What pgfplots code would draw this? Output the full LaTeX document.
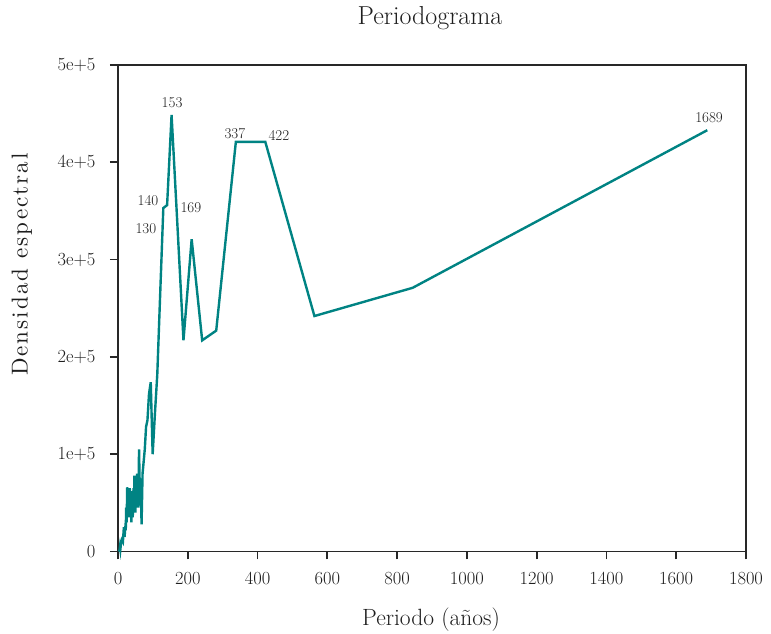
\documentclass[border=0pt]{standalone}
\usepackage{fontspec}
\newfontfamily\spacedrm{lmroman10-regular}[Extension=.otf, LetterSpace=9]
\usepackage{pgfplots}
\pgfplotsset{compat=1.18}

\definecolor{seriescol}{RGB}{0,131,131}
\definecolor{axiscol}{RGB}{40,40,40}
\definecolor{textcol}{RGB}{30,30,30}

% Periodogram: period = 1689/k (years), spectral density
\pgfplotstableread{
period   density
1689     433000
844.5    271000
563      242000
422.25   421000
337.8    421000
281.5    227000
241.29   217000
211.13   321000
187.67   217000
168.9    345000
153.55   448600
140.75   356000
129.92   353000
120.64   262000
112.6    182000
105.56   140000
99.35    100000
93.83    174000
88.89    162000
84.45    135000
80.43    128000
76.77    105000
73.43     92000
70.38     80000
67.56     28000
64.96     75000
62.56     60000
60.32    105000
58.24     45000
56.3      70000
54.48     80000
52.78     45000
51.18     60000
49.68     40000
48.26     55000
46.92     78000
45.65     40000
44.45     65000
43.31     48000
42.23     35000
40.21     62000
38.39     30000
36.72     55000
35.19     40000
33.78     65000
32.48     35000
30.71     62000
29.12     35000
27.69     55000
26.39     66000
24.84     30000
23.46     45000
22.22     22000
21.11     25000
18.77     15000
16.89     25000
14.08     10000
11.26     12000
8.45       8000
6.76       2000
5.63       5000
4.22       1000
2.0           0
}\periodogram

\begin{document}
\begin{tikzpicture}
\path[use as bounding box] (-118pt,-82.5pt) rectangle (653pt,551.5pt);
\begin{axis}[
  at={(0,0)}, anchor=south west,
  scale only axis, width=628pt, height=486.5pt,
  xmin=0, xmax=1800, ymin=0, ymax=500000,
  xtick={0,200,400,600,800,1000,1200,1400,1600,1800},
  xticklabels={0,200,400,600,800,1000,1200,1400,1600,1800},
  ytick={0,100000,200000,300000,400000,500000},
  yticklabels={0,1e+5,2e+5,3e+5,4e+5,5e+5},
  scaled y ticks=false,
  /pgf/number format/assume math mode=true,
  xtick pos=bottom, ytick pos=left,
  tick align=outside, major tick length=8pt,
  axis line style={draw=axiscol, line width=1.8pt},
  every tick/.style={draw=axiscol, line width=1.8pt},
  ticklabel style={font=\fontsize{18.5}{20}\selectfont, text=textcol},
  yticklabel style={xshift=-11pt},
  xticklabel style={yshift=-9pt},
  clip=false,
]
\addplot[seriescol, line width=2.4pt, line join=miter, mark=none] table[x=period, y=density] {\periodogram};
\begin{scope}[every node/.style={font=\fontsize{15}{17}\selectfont, text=textcol}]
\node at (axis cs:155,461000) {153};
\node at (axis cs:86,361000) {140};
\node at (axis cs:80,332000) {130};
\node at (axis cs:209,353000) {169};
\node at (axis cs:335,430000) {337};
\node at (axis cs:461,428000) {422};
\node at (axis cs:1694,446000) {1689};
\end{scope}
\end{axis}
\node[font=\fontsize{26}{30}\selectfont, text=textcol] at (312pt,533.5pt) {Periodograma};
\node[font=\fontsize{23.5}{27}\selectfont, text=textcol] at (313pt,-68.5pt) {Periodo (años)};
\node[font=\spacedrm\fontsize{23}{27}\selectfont, text=textcol, rotate=90] at (-96pt,287pt) {Densidad espectral};
\end{tikzpicture}
\end{document}
